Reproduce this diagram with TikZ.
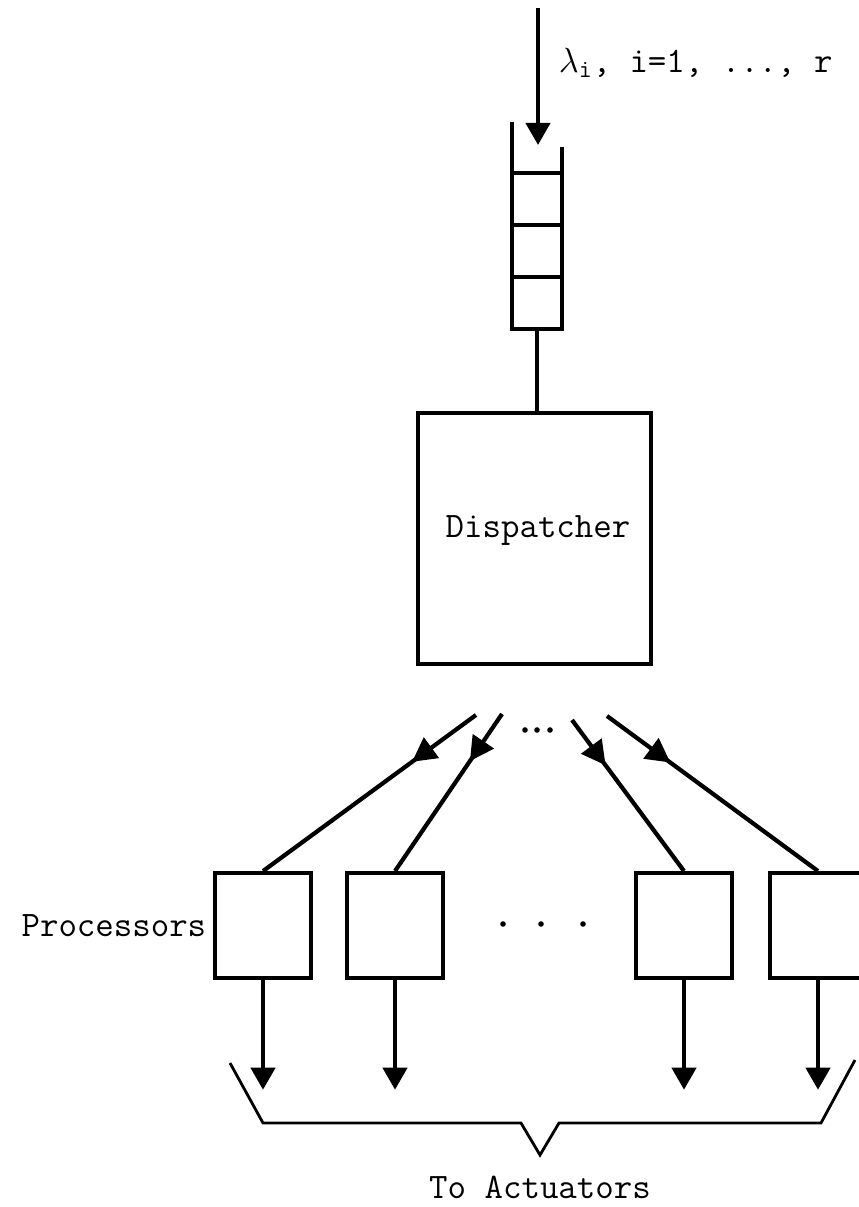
\documentclass[tikz,border=0pt]{standalone}
\usepackage{fontspec}
\usetikzlibrary{arrows.meta,positioning,decorations.markings}

\tikzset{
  lbl/.style={font=\fontsize{25.5}{30}\selectfont\ttfamily},
  frame/.style={line width=2.6pt},
  procbox/.style={draw, frame, minimum width=2.4cm, minimum height=2.625cm},
  flow/.style={line width=3pt, -{Triangle[length=0.55cm,width=0.6cm]}},
  midtip/.style={line width=3pt, postaction={decorate},
    decoration={markings, mark=at position #1 with {\arrow{Triangle[length=0.6cm,width=0.62cm]}}}},
}

\begin{document}
\begin{tikzpicture}
    \useasboundingbox (0,0) rectangle (21.45,30.175);

    % Incoming requests into the queue
    \coordinate (src) at (13.45,29.975);
    \coordinate (qin) at (13.45,26.55);
    \draw[flow] (src) -- (qin);
    \node[lbl, anchor=west] (rate) at (13.85,28.6) {$\lambda_{\mathtt{i}}$, i=1, ..., r};

    % The queue: open at the top, three slots
    \draw[frame] (12.8,27.125) -- (12.8,21.95) -- (14.05,21.95) -- (14.05,26.5);
    \foreach \y in {25.85, 24.55, 23.25}
        \draw[frame] (12.8,\y) -- (14.05,\y);
    \coordinate (qbot) at (13.425,21.95);

    % Dispatcher
    \node[draw, frame, minimum width=5.825cm, minimum height=6.275cm] (disp) at (13.3625,16.7125) {};
    \node[lbl] (disptxt) at (13.45,16.9) {Dispatcher};
    \draw[frame] (qbot) -- (qbot |- disp.north);

    % Fan-out to the processors
    \foreach \x in {13.125, 13.425, 13.75}
        \fill (\x,11.925) circle (0.07);

    \node[procbox] (p1) at (6.575,7.04) {};
    \node[procbox] (p2) at (9.875,7.04) {};
    \node[procbox] (p3) at (17.1,7.04) {};
    \node[procbox] (p4) at (20.45,7.04) {};
    \node[lbl, left=0.05cm of p1] (proclbl) {Processors};

    \coordinate (t1) at (11.9,12.3);
    \coordinate (t2) at (12.55,12.325);
    \coordinate (t3) at (14.3,12.175);
    \coordinate (t4) at (15.175,12.275);
    \foreach \i in {1,...,4}
        \draw[midtip=0.3] (t\i) -- (p\i.north);

    \foreach \x in {12.575, 13.525, 14.575}
        \fill (\x,7.075) circle (0.07);

    % Outputs, gathered by the brace
    \foreach \i in {1,...,4} {
        \coordinate (o\i) at ([yshift=-2.75cm]p\i.south);
        \draw[flow] (p\i.south) -- (o\i);
    }
    \draw[line width=2pt] (5.75,3.6) -- (6.575,2.1) -- (13.025,2.1) -- (13.5,1.3)
        -- (13.975,2.1) -- (20.525,2.1) -- (21.375,3.675);
    \node[lbl] (act) at (13.5,0.5) {To Actuators};
\end{tikzpicture}
\end{document}
